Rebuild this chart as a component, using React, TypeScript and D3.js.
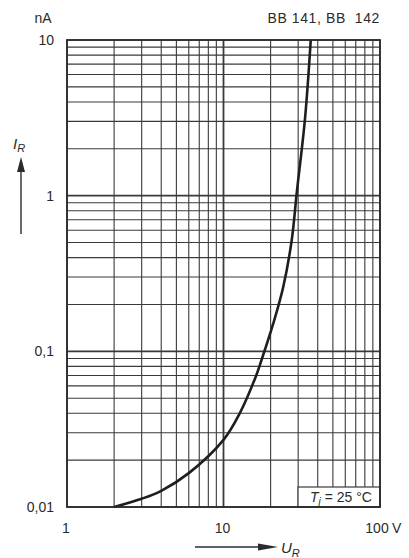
import React from "react";
import { scaleLog, line, curveCatmullRom, range } from "d3";

// reverse current vs reverse voltage
const voltage = [2, 3, 4, 6, 10, 12.7, 16, 17.5, 20.8, 24.1, 27.3, 29.4, 33.2, 36.1];
const current = [0.01, 0.0113, 0.0127, 0.0165, 0.027, 0.04, 0.068, 0.088, 0.151, 0.26, 0.52, 1.05, 3.15, 10];

const xTicks = [1, 10, 100];
const xTickLabels = ["1", "10", "100"];
const yTicks = [0.01, 0.1, 1, 10];
const yTickLabels = ["0,01", "0,1", "1", "10"];

const W = 409;
const H = 558;
const left = 67, right = 380, top = 40, bottom = 507;
const ink = "#2b2b2b";
const font = "'Liberation Sans', Arial, sans-serif";

const App = () => {
  const x = scaleLog().domain([1, 100]).range([left, right]);
  const y = scaleLog().domain([0.01, 10]).range([bottom, top]);

  // 1..9 in every decade
  const vLines = [1, 10].flatMap((d) => range(1, 10).map((k) => k * d)).concat([100]);
  const hLines = [0.01, 0.1, 1].flatMap((d) => range(1, 10).map((k) => k * d)).concat([10]);

  const pts = voltage.map((u, i) => [u, current[i]]);
  const path = line()
    .x((d) => x(d[0]))
    .y((d) => y(d[1]))
    .curve(curveCatmullRom.alpha(0.5))(pts);

  // box with the junction temperature, bottom right corner
  const boxL = 298, boxT = 487;

  return (
    <svg
      width={W}
      height={H}
      style={{ position: "absolute", left: 0, top: 0, background: "#fff" }}
      fontFamily={font}
    >
      <rect width={W} height={H} fill="#fff" />
      <g stroke="#3a3a3a">
        {vLines.map((v) => (
          <line
            key={"v" + v}
            x1={x(v)}
            x2={x(v)}
            y1={top}
            y2={bottom}
            strokeWidth={v === 10 ? 1.8 : 1.1}
          />
        ))}
        {hLines.map((v) => (
          <line
            key={"h" + v}
            x1={left}
            x2={right}
            y1={y(v)}
            y2={y(v)}
            strokeWidth={[0.1, 1].includes(v) ? 1.8 : 1.1}
          />
        ))}
      </g>
      <path d={path} fill="none" stroke="#1e1e1e" strokeWidth={2.6} />
      <rect
        x={boxL}
        y={boxT}
        width={right - boxL}
        height={bottom - boxT}
        fill="#fff"
        stroke="#3a3a3a"
        strokeWidth={1.2}
      />
      <rect
        x={left}
        y={top}
        width={right - left}
        height={bottom - top}
        fill="none"
        stroke="#2a2a2a"
        strokeWidth={1.8}
      />
      <text x={(boxL + right) / 2 + 2} y={bottom - 5} fontSize={14} fill={ink} textAnchor="middle">
        <tspan fontStyle="italic">T</tspan>
        <tspan fontStyle="italic" fontSize={10} dy={3}>j</tspan>
        <tspan dy={-3}> = 25 °C</tspan>
      </text>

      {yTicks.map((t, i) => (
        <text key={t} x={54} y={y(t) + 5} fontSize={14} fill={ink} textAnchor="end">
          {yTickLabels[i]}
        </text>
      ))}
      {xTicks.map((t, i) => (
        <text key={t} x={x(t) - (t === 100 ? 3 : 1)} y={533} fontSize={14} fill={ink} textAnchor="middle">
          {xTickLabels[i]}
        </text>
      ))}
      <text x={392} y={533} fontSize={14} fill={ink}>V</text>

      <text x={43} y={23} fontSize={14} fill={ink} textAnchor="middle">nA</text>
      <text x={380} y={23} fontSize={14} fill={ink} textAnchor="end" style={{ whiteSpace: "pre" }} letterSpacing={0.6}>
        BB 141, BB  142
      </text>

      {/* y axis title with arrow */}
      <text x={13} y={149} fontSize={15} fill={ink} fontStyle="italic">
        I<tspan fontSize={11} dy={3}>R</tspan>
      </text>
      <line x1={21} x2={21} y1={234} y2={168} stroke={ink} strokeWidth={1.4} />
      <path d="M17,172 L25,172 L21,157 Z" fill={ink} />

      {/* x axis title with arrow */}
      <line x1={195} x2={262} y1={547} y2={547} stroke={ink} strokeWidth={1.4} />
      <path d="M258,543.5 L258,550.5 L278,547 Z" fill={ink} />
      <text x={281} y={553} fontSize={15} fill={ink} fontStyle="italic">
        U<tspan fontSize={11} dy={4}>R</tspan>
      </text>
    </svg>
  );
};

export default App;
